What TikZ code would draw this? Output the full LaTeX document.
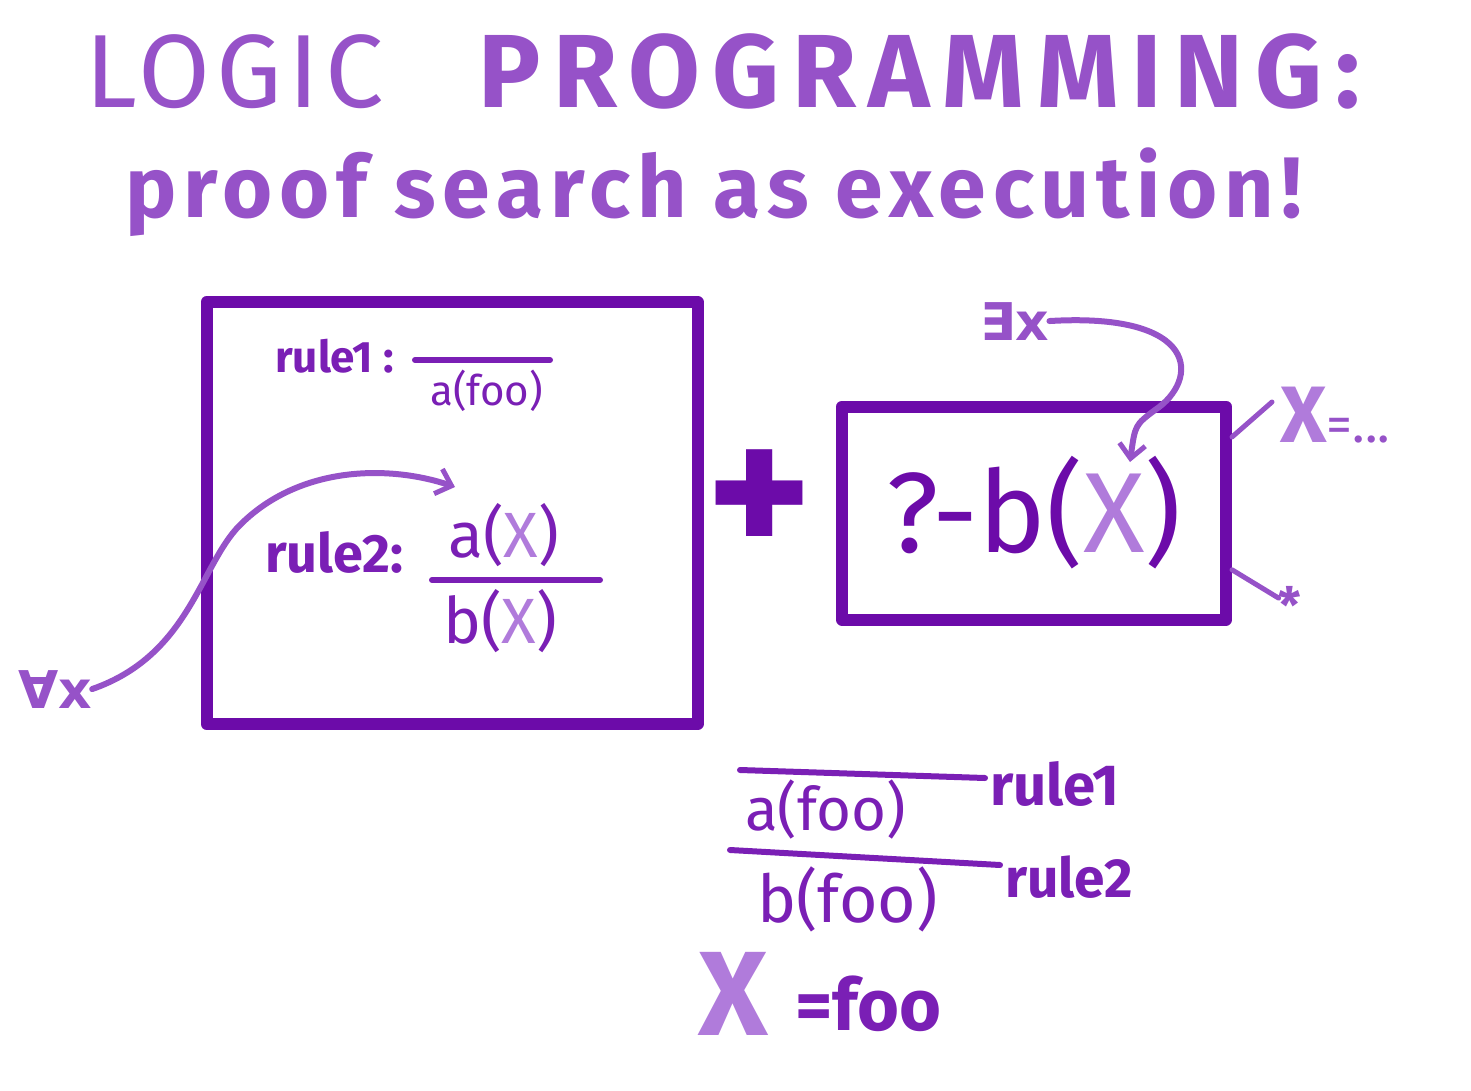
\documentclass[tikz,border=0pt]{standalone}
\usepackage{fontspec}
\setmainfont{Fira Sans}
\newfontfamily\quantfont{DejaVu Sans}
\usetikzlibrary{arrows.meta,positioning}
\definecolor{grape}{HTML}{6C0BA9}
\definecolor{plumink}{HTML}{7A1FB5}
\definecolor{lilac}{HTML}{9652C8}
\definecolor{haze}{HTML}{B07BDB}
\newcommand{\fsz}[1]{\fontsize{#1}{#1}\selectfont}
\newcommand{\vx}{\textcolor{haze}{X}}
\tikzset{
  frame/.style={draw=grape, line width=12pt, line join=round, inner sep=0pt},
  headline/.style={text=lilac, inner sep=0pt, anchor=base west},
  ink/.style={text=plumink, inner sep=0pt, anchor=base west, font=\bfseries},
  bar/.style={draw=plumink, line width=6pt, line cap=round},
  quant/.style={text=lilac, inner sep=0pt, anchor=base west, font=\quantfont\bfseries\fsz{52}},
  bind/.style={-{Straight Barb[length=14pt,width=26pt,line width=5pt]}, draw=lilac, line width=6pt, line cap=round},
  tick/.style={draw=lilac, line width=5pt, line cap=round}
}
\begin{document}
\begin{tikzpicture}[x=1pt, y=-1pt]
 \useasboundingbox (0,0) rectangle (1471,1091);
 % heading
 \node[headline, font=\fsz{104}\addfontfeatures{LetterSpace=6}] (logic) at (85,108) {LOGIC};
 \node[headline, font=\fsz{104}\bfseries\addfontfeatures{LetterSpace=12}] (prog) at (478,108) {PROGRAMMING:};
 \node[headline, font=\fsz{86}\bfseries\addfontfeatures{LetterSpace=8}] (sub) at (125,218) {proof search as execution!};
 % the program: a box of rules
 \node[frame, minimum width=491pt, minimum height=422pt] (rulebox) at (452,513) {};
 \node[ink, font=\bfseries\fsz{44}] (r1) at (275,372) {rule1 :};
 \coordinate (b1l) at (415,360); \coordinate (b1r) at (550,360);
 \draw[bar] (b1l) -- (b1r);
 \node[ink, font=\fsz{42}] (a1) at (430,405) {a(foo)};
 \node[ink, font=\bfseries\fsz{54}] (r2) at (265,572) {rule2:};
 \node[ink, font=\fsz{64}] (a2) at (448,557) {a(\vx)};
 \coordinate (b2l) at (432,580); \coordinate (b2r) at (600,580);
 \draw[bar] (b2l) -- (b2r);
 \node[ink, font=\fsz{64}] (b2) at (443,643) {b(\vx)};
 \node[quant] (forall) at (18,708) {∀x};
 \coordinate (fortip) at (455,487);
 \draw[bind] (forall.east) .. controls (190,655) and (200,565) .. (240,525)
   .. controls (300,465) and (390,465) .. (fortip);
 % plus
 \node[text=grape, font=\bfseries\fsz{200}, inner sep=0pt] (plus) at (760,505) {+};
 % the query
 \node[frame, minimum width=384pt, minimum height=213pt, text=grape, font=\fsz{114}] (query) at (1034,513) {?-b(\vx)};
 \node[quant] (exists) at (980,340) {∃x};
 \coordinate (extip) at (1130,462);
 \draw[bind] (exists.east) .. controls (1200,312) and (1200,380) .. (1155,410)
   .. controls (1135,425) .. (extip);
 \node[text=lilac, inner sep=0pt, anchor=base west] (xeq) at (1280,442) {{\fsz{80}\bfseries\vx}{\fsz{52}=...}};
 \draw[tick] (query.21) -- (1272,402);
 \node[text=lilac, inner sep=0pt, font=\bfseries\fsz{50}] (star) at (1290,605) {*};
 \draw[tick] (query.-16) -- (star);
 % the derivation
 \coordinate (b3l) at (740,770); \coordinate (b3r) at (985,778);
 \draw[bar] (b3l) -- (b3r);
 \node[ink, font=\bfseries\fsz{58}] (d1) at (990,805) {rule1};
 \node[ink, font=\fsz{60}] (af) at (745,830) {a(foo)};
 \coordinate (b4l) at (730,850); \coordinate (b4r) at (1000,865);
 \draw[bar] (b4l) -- (b4r);
 \node[ink, font=\bfseries\fsz{55}] (d2) at (1005,897) {rule2};
 \node[ink, font=\fsz{66}] (bf) at (757,922) {b(foo)};
 \node[text=haze, inner sep=0pt, anchor=base west, font=\bfseries\fsz{120}] (xv) at (698,1035) {X};
 \node[ink, font=\bfseries\fsz{72}] (foo) at (795,1030) {=foo};
\end{tikzpicture}
\end{document}
